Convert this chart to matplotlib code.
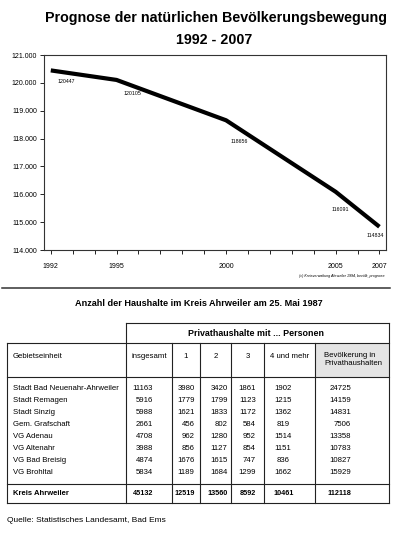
import matplotlib
matplotlib.use("Agg")
import matplotlib.pyplot as plt
from matplotlib.ticker import FuncFormatter, MultipleLocator

plt.rcParams['font.family'] = ['Liberation Sans', 'DejaVu Sans']

# ---------------- data ----------------
years = [1992, 1995, 2000, 2005, 2007]
population = [120447, 120105, 118656, 116091, 114834]
major_years = [1992, 1995, 2000, 2005, 2007]

regions = ["Stadt Bad Neuenahr-Ahrweiler", "Stadt Remagen", "Stadt Sinzig",
           "Gem. Grafschaft", "VG Adenau", "VG Altenahr", "VG Bad Breisig",
           "VG Brohltal"]
insgesamt = [11163, 5916, 5988, 2661, 4708, 3988, 4874, 5834]
p1 = [3980, 1779, 1621, 456, 962, 856, 1676, 1189]
p2 = [3420, 1799, 1833, 802, 1280, 1127, 1615, 1684]
p3 = [1861, 1123, 1172, 584, 952, 854, 747, 1299]
p4plus = [1902, 1215, 1362, 819, 1514, 1151, 836, 1662]
bevoelkerung = [24725, 14159, 14831, 7506, 13358, 10783, 10827, 15929]
total_label = "Kreis Ahrweiler"
totals = [45132, 12519, 13560, 8592, 10461, 112118]
col_headers = ["insgesamt", "1", "2", "3", "4 und mehr", "Bevölkerung in\nPrivathaushalten"]

W, H = 398, 538
fig = plt.figure(figsize=(W / 100, H / 100), dpi=100)

# ---------------- page overlay (pixel coords) ----------------
pg = fig.add_axes([0, 0, 1, 1])
pg.set_xlim(0, W)
pg.set_ylim(H, 0)
pg.axis('off')

pg.text(216, 18, "Prognose der natürlichen Bevölkerungsbewegung", ha='center', va='center',
        fontsize=10.3, fontweight='bold')
pg.text(214, 40, "1992 - 2007", ha='center', va='center', fontsize=10.3, fontweight='bold')

pg.text(385, 276, "(c) Kreisverwaltung Ahrweiler 1994, bevölk_prognose", ha='right', va='center',
        fontsize=2.6, style='italic')
pg.plot([2, 390], [288, 288], color='#333333', lw=1.1)

pg.text(199, 303, "Anzahl der Haushalte im Kreis Ahrweiler am 25. Mai 1987", ha='center',
        va='center', fontsize=6.6, fontweight='bold')

# table geometry (layout)
xl, xg, xi, x1, x2, x3, x4, xr = 7, 126, 172, 200, 231, 264, 315, 389
y_top, y_h2, y_hb, y_tot, y_bot = 323, 343, 377, 484, 503
lc = '#222222'
lw = 0.8
pg.fill_between([x4, xr], y_h2, y_hb, color='#e4e4e4', lw=0)
for y, xa in [(y_top, xg), (y_h2, xl), (y_hb, xl), (y_tot, xl), (y_bot, xl)]:
    pg.plot([xa, xr], [y, y], color=lc, lw=lw)
for x in [xg, xr]:
    pg.plot([x, x], [y_top, y_bot], color=lc, lw=lw)
for x in [xl, xi, x1, x2, x3, x4]:
    pg.plot([x, x], [y_h2, y_bot], color=lc, lw=lw)

fs = 5.6
pg.text((xg + xr) / 2 - 2, 333, "Privathaushalte mit ... Personen", ha='center', va='center',
        fontsize=6.4, fontweight='bold')
pg.text(13, 357, "Gebietseinheit", ha='left', va='center', fontsize=fs)
centers = [(xg + xi) / 2, (xi + x1) / 2, (x1 + x2) / 2, (x2 + x3) / 2, (x3 + x4) / 2]
for c, h in zip(centers, col_headers[:5]):
    pg.text(c, 357, h, ha='center', va='center', fontsize=fs)
pg.text(324, 352, col_headers[5], ha='left', va='top', fontsize=fs, linespacing=1.25)

# data rows
row_y0, row_dy = 389, 12
num_pos = [(153, 'right'), (194.5, 'right'), (227.5, 'right'), (256, 'right'),
           (283, 'center'), (351, 'right')]
cols = [insgesamt, p1, p2, p3, p4plus, bevoelkerung]
for i, name in enumerate(regions):
    y = row_y0 + i * row_dy
    pg.text(13, y, name, ha='left', va='center', fontsize=fs)
    for (x, ha), col in zip(num_pos, cols):
        pg.text(x, y, str(col[i]), ha=ha, va='center', fontsize=fs)

fsb = 5.2
pg.text(13, 493.5, total_label, ha='left', va='center', fontsize=fsb + 0.3, fontweight='bold')
for (x, ha), v in zip(num_pos, totals):
    pg.text(x + 0.5, 493.5, str(v), ha=ha, va='center', fontsize=fsb, fontweight='bold')

pg.text(7, 520, "Quelle: Statistisches Landesamt, Bad Ems", ha='left', va='center', fontsize=6)

# ---------------- line chart ----------------
left, right, top, bottom = 44, 386, 55, 250
ax = fig.add_axes([left / W, 1 - bottom / H, (right - left) / W, (bottom - top) / H])
ax.plot(years, population, color='black', lw=3.0, solid_capstyle='butt', solid_joinstyle='round')
ax.set_xlim(1991.69, 2007.3)
ax.set_ylim(114000, 121000)
ax.yaxis.set_major_locator(MultipleLocator(1000))
ax.yaxis.set_major_formatter(FuncFormatter(lambda v, p: f"{int(v):,}".replace(",", ".")))
ax.set_xticks(major_years)
ax.xaxis.set_minor_locator(MultipleLocator(1))
ax.tick_params(axis='y', labelsize=5, length=3, width=0.6, pad=2)
ax.tick_params(axis='x', which='both', labelsize=5, length=3, width=0.6, pad=6)
for s in ax.spines.values():
    s.set_linewidth(0.8)
    s.set_color('#333333')

label_offsets = [(5, -8), (5, -10), (3, -15), (-3, -13), (-9, -6)]
for x, y, (dx, dy) in zip(years, population, label_offsets):
    ax.annotate(str(y), (x, y), xytext=(dx, dy), textcoords='offset points',
                ha='left', va='center', fontsize=3.8)

fig.savefig("out.png", dpi=100)
